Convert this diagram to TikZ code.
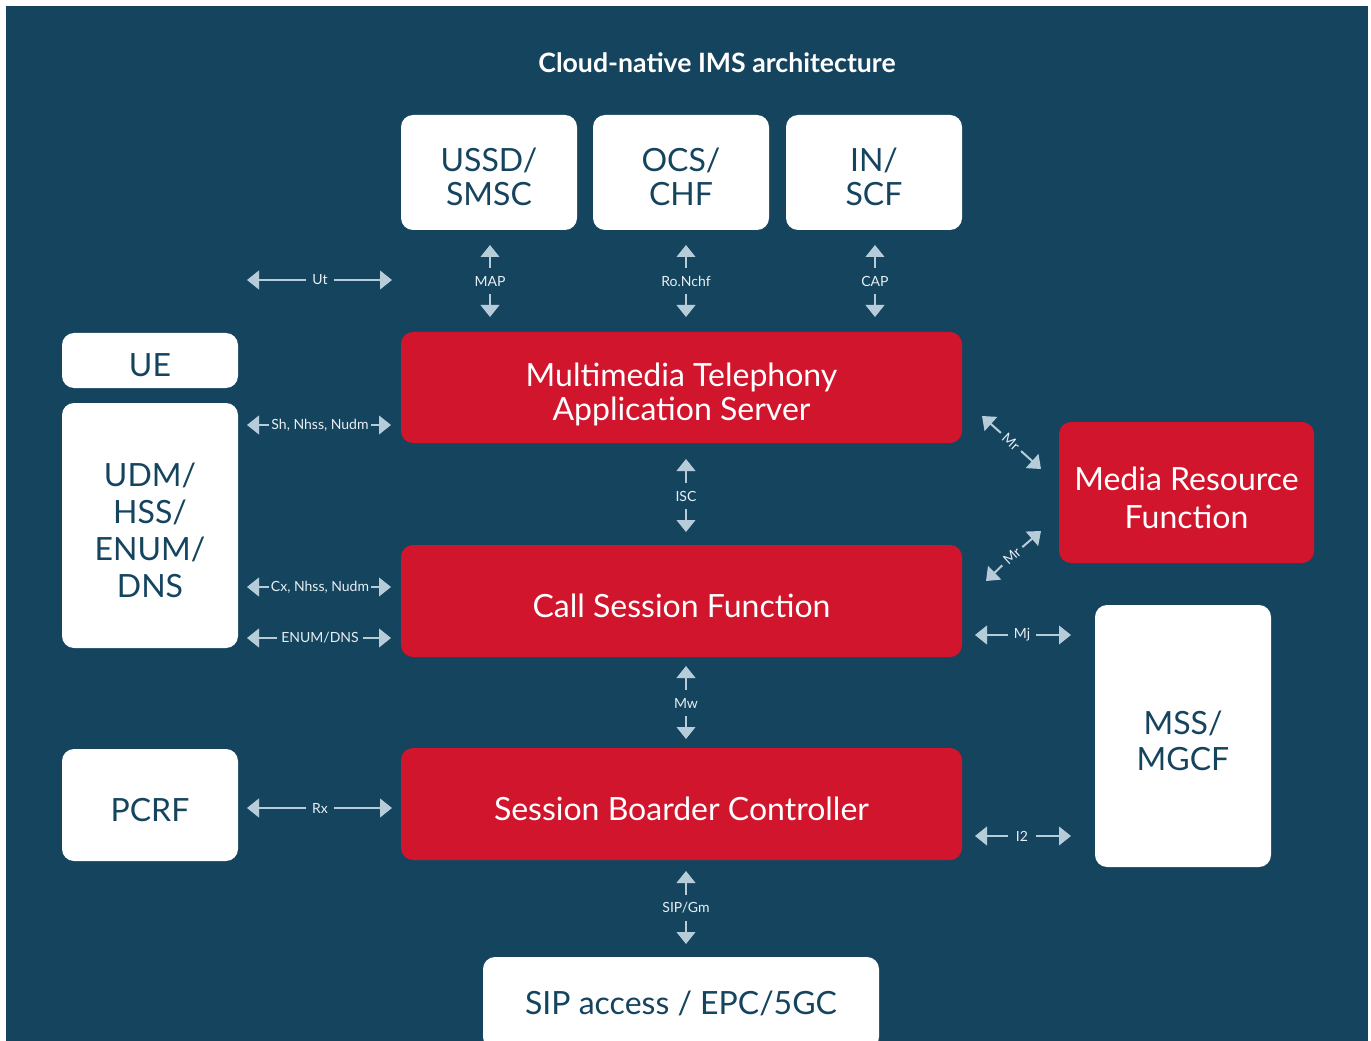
\documentclass[tikz,border=0pt]{standalone}
\usepackage{fontspec}
\setmainfont{Lato}
\usetikzlibrary{arrows.meta}
\definecolor{navy}{HTML}{15445F}
\definecolor{imsred}{HTML}{D0152D}
\definecolor{linkcol}{HTML}{B6CCD9}
\definecolor{lblcol}{HTML}{E8EFF3}
% box captions: one-column tabular, lowered a little inside its own box
\newcommand\btext[2][-7.1pt]{\raisebox{#1}[\height][\depth]{\begin{tabular}{@{}c@{}}#2\end{tabular}}}
\tikzset{
  box/.style={rounded corners=9pt, inner sep=0pt,
    font=\fontsize{24}{25.5}\selectfont},
  wbox/.style={box, fill=white, text=navy},
  rbox/.style={box, fill=imsred, text=white},
  link/.style={draw=linkcol, line width=1.5pt,
    -{Triangle[length=9pt,width=14pt]}},
  lbl/.style={text=lblcol, inner sep=0pt, font=\fontsize{10.5}{10.5}\selectfont},
  hlbl/.style={lbl, minimum width=21pt, inner xsep=1.5pt},
  vlbl/.style={lbl, minimum height=19.5pt},
  dlbl/.style={lbl, minimum width=20pt}
}
\begin{document}
\begin{tikzpicture}[x=0.75pt,y=-0.75pt]
\clip (0,0) rectangle (1371,1041);
\fill[white] (0,0) rectangle (1371,1041);
\fill[navy] (6,6) rectangle (1368,1041);

% title
\node[text=white, font=\fontsize{20}{20}\selectfont\bfseries] (title) at (717,63) {Cloud-native IMS architecture};

% service nodes on top
\node[wbox, minimum width=132pt, minimum height=86.25pt] (ussd) at (489,172.5) {\btext{USSD/\\SMSC}};
\node[wbox, minimum width=132pt, minimum height=86.25pt] (ocs) at (681,172.5) {\btext{OCS/\\CHF}};
\node[wbox, minimum width=132pt, minimum height=86.25pt] (inscf) at (874,172.5) {\btext{IN/\\SCF}};

% left column
\node[wbox, minimum width=132pt, minimum height=41.25pt] (ue) at (150,360.5) {\btext{UE}};
\node[wbox, minimum width=132pt, minimum height=183.75pt, font=\fontsize{24}{27.75}\selectfont] (udm) at (150,525.5) {\btext{UDM/\\HSS/\\ENUM/\\DNS}};
\node[wbox, minimum width=132pt, minimum height=84pt] (pcrf) at (150,805) {\btext{PCRF}};

% core functions
\node[rbox, minimum width=420.75pt, minimum height=83.25pt] (mmtel) at (681.5,387.5) {\btext{Multimedia Telephony\\Application Server}};
\node[rbox, minimum width=420.75pt, minimum height=84pt] (csf) at (681.5,601) {\btext{Call Session Function}};
\node[rbox, minimum width=420.75pt, minimum height=84pt] (sbc) at (681.5,804) {\btext{Session Boarder Controller}};

% right column
\node[rbox, minimum width=191.25pt, minimum height=105.75pt, font=\fontsize{24}{28.5}\selectfont] (mrf) at (1186.5,492.5) {\btext{Media Resource\\Function}};
\node[wbox, minimum width=132pt, minimum height=196.5pt, font=\fontsize{24}{27}\selectfont] (mss) at (1183,736) {\btext{MSS/\\MGCF}};

% access (runs off the bottom edge)
\node[wbox, minimum width=297pt, minimum height=69pt] (sip) at (681,1003) {\btext[-3.4pt]{SIP access / EPC/5GC}};

% vertical interfaces
\node[vlbl] (lmap) at (490,281) {MAP};
\coordinate (mapU) at (490,245); \coordinate (mapD) at (490,317);
\draw[link] (lmap) -- (mapU); \draw[link] (lmap) -- (mapD);

\node[vlbl] (lro) at (686,281) {Ro.Nchf};
\coordinate (roU) at (686,245); \coordinate (roD) at (686,317);
\draw[link] (lro) -- (roU); \draw[link] (lro) -- (roD);

\node[vlbl] (lcap) at (875,281) {CAP};
\coordinate (capU) at (875,245); \coordinate (capD) at (875,317);
\draw[link] (lcap) -- (capU); \draw[link] (lcap) -- (capD);

\node[vlbl] (lisc) at (686,496) {ISC};
\coordinate (iscU) at (686,459); \coordinate (iscD) at (686,532);
\draw[link] (lisc) -- (iscU); \draw[link] (lisc) -- (iscD);

\node[vlbl] (lmw) at (686,703) {Mw};
\coordinate (mwU) at (686,666); \coordinate (mwD) at (686,739);
\draw[link] (lmw) -- (mwU); \draw[link] (lmw) -- (mwD);

\node[vlbl] (lgm) at (686,908) {SIP/Gm};
\coordinate (gmU) at (686,871); \coordinate (gmD) at (686,944);
\draw[link] (lgm) -- (gmU); \draw[link] (lgm) -- (gmD);

% horizontal interfaces, left side
\node[hlbl] (lut) at (320,280) {Ut};
\coordinate (utL) at (247,280); \coordinate (utR) at (392,280);
\draw[link] (lut) -- (utL); \draw[link] (lut) -- (utR);

\node[hlbl] (lsh) at (320,425) {Sh, Nhss, Nudm};
\coordinate (shL) at (247,425); \coordinate (shR) at (391,425);
\draw[link] (lsh) -- (shL); \draw[link] (lsh) -- (shR);

\node[hlbl] (lcx) at (320,587) {Cx, Nhss, Nudm};
\coordinate (cxL) at (247,587); \coordinate (cxR) at (391,587);
\draw[link] (lcx) -- (cxL); \draw[link] (lcx) -- (cxR);

\node[hlbl, inner xsep=3pt] (lenum) at (320,638) {ENUM/DNS};
\coordinate (enL) at (247,638); \coordinate (enR) at (391,638);
\draw[link] (lenum) -- (enL); \draw[link] (lenum) -- (enR);

\node[hlbl] (lrx) at (320,808) {Rx};
\coordinate (rxL) at (247,808); \coordinate (rxR) at (392,808);
\draw[link] (lrx) -- (rxL); \draw[link] (lrx) -- (rxR);

% horizontal interfaces, right side
\node[hlbl] (lmj) at (1022,635) {Mj};
\coordinate (mjL) at (975,635); \coordinate (mjR) at (1071,635);
\draw[link] (lmj) -- (mjL); \draw[link] (lmj) -- (mjR);

\node[hlbl] (li2) at (1022,836) {I2};
\coordinate (i2L) at (975,836); \coordinate (i2R) at (1071,836);
\draw[link] (li2) -- (i2L); \draw[link] (li2) -- (i2R);

% diagonal Mr interfaces
\node[dlbl, rotate=-42] (lmr1) at (1011,442) {Mr};
\coordinate (mr1A) at (982,416); \coordinate (mr1B) at (1041,469);
\draw[link] (lmr1) -- (mr1A); \draw[link] (lmr1) -- (mr1B);

\node[dlbl, rotate=42] (lmr2) at (1012,556) {Mr};
\coordinate (mr2A) at (986,581); \coordinate (mr2B) at (1041,531);
\draw[link] (lmr2) -- (mr2A); \draw[link] (lmr2) -- (mr2B);
\end{tikzpicture}
\end{document}
